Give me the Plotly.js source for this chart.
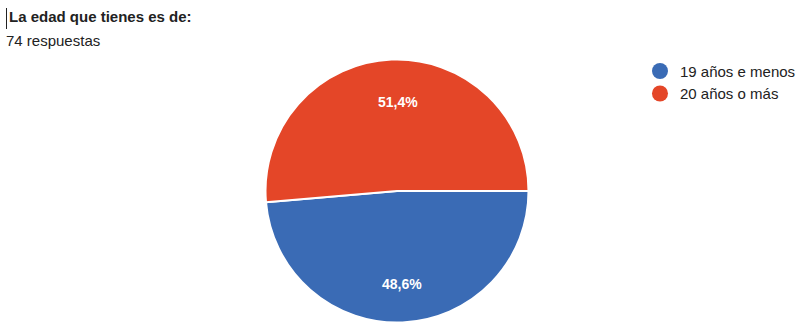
<!DOCTYPE html>
<html>
<head>
<meta charset="utf-8">
<script src="https://cdn.plot.ly/plotly-3.0.1.min.js"></script>
<style>html,body{margin:0;padding:0;background:#fff;}#chart{width:804px;height:332px;}</style>
</head>
<body>
<div id="chart"></div>
<script>
const categories = ["19 años e menos", "20 años o más"];
const counts = [36, 38];
const colors = ["#3a6bb5", "#e44628"];
const titleText = "La edad que tienes es de:";
const subtitleText = "74 respuestas";

const W = 804, H = 332;
const cxPx = 397, cyPx = 191, Rpx = 131.5;
const domX = [(cxPx - Rpx) / W, (cxPx + Rpx) / W];
const domY = [(H - cyPx - Rpx) / H, (H - cyPx + Rpx) / H];
const startAngle = 90;

const pie = {
  type: "pie",
  labels: categories,
  values: counts,
  sort: false,
  direction: "clockwise",
  rotation: startAngle,
  marker: {colors: colors, line: {color: "#ffffff", width: 2}},
  textinfo: "none",
  hoverinfo: "none",
  showlegend: false,
  domain: {x: domX, y: domY}
};

const legendTraces = categories.map((c, i) => ({
  type: "scatter",
  mode: "markers",
  x: [null], y: [null],
  name: c,
  marker: {color: colors[i], size: 16, symbol: "circle"},
  showlegend: true,
  hoverinfo: "none"
}));

// percentage labels placed along each slice's middle angle (clockwise from 12 o'clock)
const total = counts.reduce((a, b) => a + b, 0);
let cum = 0;
const labelAnns = counts.map((v, i) => {
  const mid = (startAngle + 360 * (cum + v / 2) / total) * Math.PI / 180;
  cum += v;
  const r = 0.69 * Rpx;
  const pct = (100 * v / total).toFixed(1).replace(".", ",") + "%";
  return {
    text: "<b>" + pct + "</b>",
    xref: "paper", yref: "paper",
    x: (cxPx + 3 + 0.5 * r * Math.sin(mid)) / W,
    y: (H - cyPx - 2 + r * Math.cos(mid)) / H,
    xanchor: "center", yanchor: "middle", showarrow: false,
    font: {family: "Liberation Sans, Arial, sans-serif", size: 14, color: "#ffffff"}
  };
});

const layout = {
  width: W, height: H,
  margin: {l: 0, r: 0, t: 0, b: 0},
  paper_bgcolor: "#ffffff",
  plot_bgcolor: "#ffffff",
  separators: ",.",
  xaxis: {visible: false},
  yaxis: {visible: false},
  showlegend: true,
  legend: {
    x: 0.796, y: 0.835, xanchor: "left", yanchor: "top",
    font: {family: "Liberation Sans, Arial, sans-serif", size: 15, color: "#222222"},
    itemsizing: "trace",
    tracegroupgap: 0
  },
  annotations: [
    {text: "<b>" + titleText + "</b>", xref: "paper", yref: "paper", x: 7 / W, y: 1 - 6 / H, xanchor: "left", yanchor: "top", showarrow: false,
     font: {family: "Liberation Sans, Arial, sans-serif", size: 15, color: "#222222"}},
    {text: subtitleText, xref: "paper", yref: "paper", x: 4 / W, y: 1 - 30 / H, xanchor: "left", yanchor: "top", showarrow: false,
     font: {family: "Liberation Sans, Arial, sans-serif", size: 15, color: "#222222"}}
  ].concat(labelAnns),
  shapes: [
    {type: "line", xref: "paper", yref: "paper", x0: 6.5 / W, x1: 6.5 / W, y0: 1 - 8 / H, y1: 1 - 29 / H, line: {color: "#222222", width: 1}}
  ]
};

Plotly.newPlot("chart", [pie].concat(legendTraces), layout, {displayModeBar: false, staticPlot: true});
</script>
</body>
</html>
